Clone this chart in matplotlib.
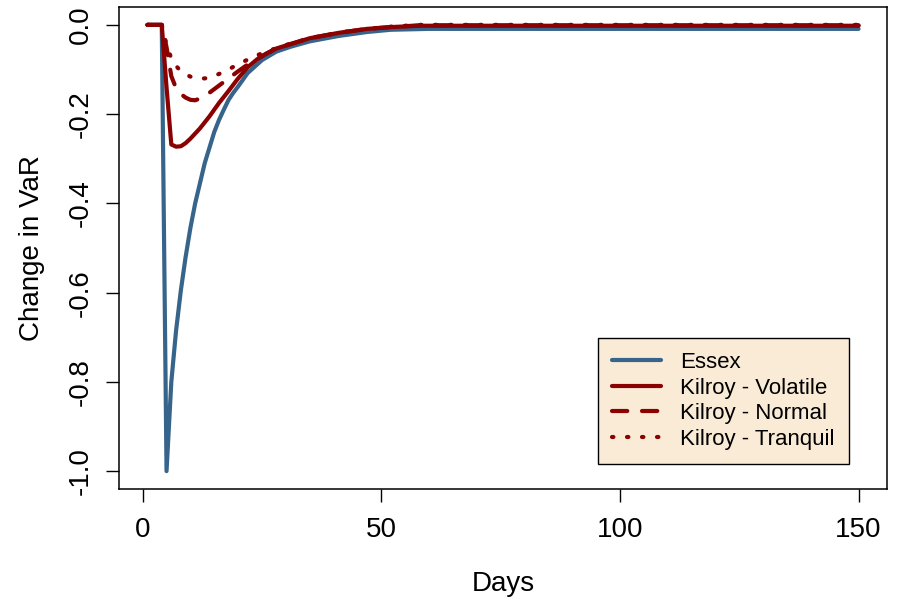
import matplotlib
matplotlib.use("Agg")
import matplotlib.pyplot as plt

plt.rcParams['font.family'] = ['Liberation Sans', 'DejaVu Sans']
plt.rcParams['lines.scale_dashes'] = False

# values (day, change in VaR)
essex_days = [1, 4, 5, 6, 7, 8, 9, 10, 11, 12, 13, 14, 15, 16, 17, 18, 19, 20,
              22, 25, 28, 31, 35, 41, 47, 52, 60, 150]
essex_vals = [0, 0, -1.0, -0.80, -0.685, -0.595, -0.52, -0.455, -0.40, -0.355,
              -0.31, -0.275, -0.24, -0.213, -0.19, -0.168, -0.152, -0.138,
              -0.108, -0.079, -0.06, -0.049, -0.037, -0.025, -0.016, -0.011,
              -0.009, -0.009]

volatile_days = [1, 4, 5, 6, 7, 8, 9, 10, 12, 14, 16, 18, 20, 22, 24, 26, 28,
                 31, 35, 41, 47, 52, 58, 150]
volatile_vals = [0, 0, -0.14, -0.268, -0.273, -0.272, -0.265, -0.255, -0.232,
                 -0.205, -0.175, -0.148, -0.12, -0.095, -0.077, -0.064, -0.053,
                 -0.043, -0.03, -0.018, -0.009, -0.005, -0.002, -0.002]

normal_days = [1, 4, 5, 6, 7, 8, 9, 10, 11, 12, 13, 14, 15, 16, 17, 18, 19, 20,
               22, 24, 26, 28, 31, 35, 41, 47, 52, 58, 150]
normal_vals = [0, 0, -0.05, -0.115, -0.142, -0.155, -0.163, -0.168, -0.169,
               -0.165, -0.159, -0.152, -0.144, -0.136, -0.128, -0.121, -0.112,
               -0.104, -0.089, -0.076, -0.064, -0.053, -0.043, -0.03, -0.018,
               -0.009, -0.005, -0.001, -0.001]

tranquil_days = [1, 4, 5, 6, 7, 8, 9, 10, 11, 12, 13, 14, 15, 16, 17, 18, 19,
                 20, 22, 24, 26, 28, 31, 35, 41, 47, 52, 58, 150]
tranquil_vals = [0, 0, -0.045, -0.075, -0.092, -0.104, -0.111, -0.116, -0.119,
                 -0.12, -0.12, -0.118, -0.114, -0.11, -0.105, -0.1, -0.094,
                 -0.088, -0.078, -0.068, -0.06, -0.052, -0.042, -0.03, -0.018,
                 -0.009, -0.004, 0.0, 0.0]

labels = ["Essex", "Kilroy - Volatile", "Kilroy - Normal", "Kilroy - Tranquil"]
xticks = [0, 50, 100, 150]
yticks = [0.0, -0.2, -0.4, -0.6, -0.8, -1.0]

blue = "#36648B"
red = "#8B0000"
lw = 3.0

fig = plt.figure(figsize=(8.99, 6.03), dpi=100)
ax = fig.add_axes([119 / 899, 1 - 489 / 603, 768 / 899, 482 / 603])

ax.plot(essex_days, essex_vals, color=blue, lw=lw, solid_capstyle='round',
        solid_joinstyle='round', label=labels[0])
ax.plot(volatile_days, volatile_vals, color=red, lw=lw, solid_capstyle='round',
        solid_joinstyle='round', label=labels[1])
ax.plot(normal_days, normal_vals, color=red, lw=lw, dashes=(11, 10.6),
        dash_capstyle='round', label=labels[2])
ax.plot(tranquil_days, tranquil_vals, color=red, lw=lw, dashes=(1.0, 9.8),
        dash_capstyle='round', label=labels[3])

# R style 4% padding
xr = 150 - 1
ax.set_xlim(1 - 0.04 * xr, 150 + 0.04 * xr)
ax.set_ylim(-1.04, 0.04)

ax.set_xticks(xticks)
ax.set_xticklabels([str(t) for t in xticks])
ax.set_yticks(yticks)
ax.set_yticklabels(["%.1f" % t for t in yticks], rotation=90, va='center')
ax.tick_params(direction='out', length=9.4, width=1, labelsize=20)
ax.tick_params(axis='x', pad=11)
ax.tick_params(axis='y', pad=9)

for s in ax.spines.values():
    s.set_linewidth(1.1)
    s.set_color('black')

ax.set_xlabel("Days", fontsize=20, labelpad=20)
ax.set_ylabel("Change in VaR", fontsize=20, labelpad=16)

leg = ax.legend(loc='lower right', bbox_to_anchor=(0.9505, 0.0519),
                borderaxespad=0, fancybox=False, framealpha=1,
                facecolor='#FAEBD7', edgecolor='black', fontsize=16,
                handlelength=2.2, handletextpad=0.85, labelspacing=0.2,
                borderpad=0.65)
leg.get_frame().set_linewidth(1.0)

fig.savefig("out.png", dpi=100)
